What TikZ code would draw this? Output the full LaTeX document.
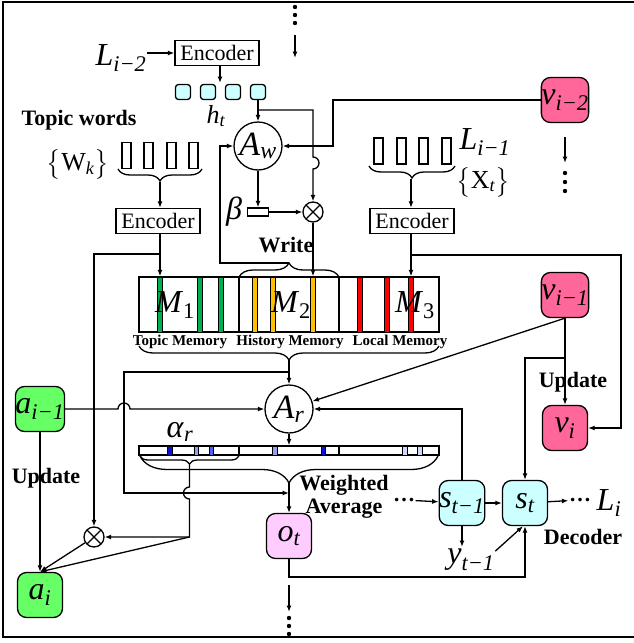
\documentclass[tikz,border=0pt]{standalone}
\usepackage{amsmath}
\usepackage{fontspec}
\setmainfont{Liberation Serif}
\usetikzlibrary{arrows.meta,decorations.pathreplacing}
\definecolor{cellcyan}{RGB}{204,255,255}
\definecolor{vpink}{RGB}{255,102,153}
\definecolor{agreen}{RGB}{102,255,102}
\definecolor{opink}{RGB}{255,204,255}
\definecolor{mgreen}{RGB}{0,176,80}
\definecolor{morange}{RGB}{255,192,0}
\definecolor{mred}{RGB}{255,0,0}
\definecolor{bdark}{RGB}{16,16,210}
\definecolor{bmid}{RGB}{80,96,240}
\definecolor{blight}{RGB}{150,160,240}
\definecolor{bpale}{RGB}{210,214,248}
\newcommand{\sym}[2]{\textit{#1}$_{\textit{#2}}$}

\begin{document}
\begin{tikzpicture}[x=1pt,y=-1pt,line width=1.3pt,>={Latex[length=6.5pt,width=5pt]},
  enc/.style={draw,minimum width=84pt,minimum height=25pt,inner sep=0pt,font=\fontsize{22}{22}\selectfont},
  cell/.style={draw,fill=cellcyan,rounded corners=3pt,minimum size=15pt,inner sep=0pt},
  word/.style={draw,minimum width=9pt,minimum height=26pt,inner sep=0pt},
  att/.style={draw,circle,minimum size=48pt,inner sep=0pt,font=\fontsize{34}{34}\selectfont},
  mult/.style={draw,circle,minimum size=20pt,inner sep=0pt,path picture={
    \draw (path picture bounding box.north west) -- (path picture bounding box.south east)
          (path picture bounding box.north east) -- (path picture bounding box.south west);}},
  state/.style={draw,rounded corners=9pt,minimum size=45pt,inner sep=0pt,font=\fontsize{32}{32}\selectfont},
  big/.style={inner sep=0pt,font=\fontsize{32}{32}\selectfont},
  lbl/.style={inner sep=0pt,font=\fontsize{22}{23}\selectfont\bfseries},
  memlbl/.style={inner sep=0pt,font=\fontsize{15}{15}\selectfont\bfseries},
  brc/.style={decorate,decoration={brace,mirror,amplitude=#1}},
  brcup/.style={decorate,decoration={brace,amplitude=#1}}]
  \useasboundingbox (0,0) rectangle (634,643);
  \draw[line width=2.5pt] (634,2) -- (3,2) -- (3,637) -- (634,637);

  \foreach \y in {7,15,23} \fill (295,\y) circle (2.2pt);
  \coordinate (t1) at (295,35);
  \coordinate (t2) at (295,58);
  \draw[->] (t1) -- (t2);

  \node[big] (L2) at (121,58) {\sym{L}{i−2}};
  \node[enc] (enc0) at (217,53) {Encoder};
  \foreach \i/\x in {1/183,2/208,3/233,4/258} \node[cell] (h\i) at (\x,92) {};
  \node[big,font=\fontsize{26}{26}\selectfont] (hlab) at (216,116) {\sym{h}{t}};
  \node[att] (Aw) at (258,146) {\sym{A}{w}};
  \node[draw,minimum width=21pt,minimum height=8pt,inner sep=0pt] (beta) at (258,212) {};
  \node[big] (blab) at (234,212) {\textit{β}};
  \node[mult] (wm) at (313,212) {};
  \node[lbl] (write) at (286,245) {Write};
  \node[state,fill=vpink] (v2) at (565,100) {\sym{v}{i−2}};
  \foreach \y in {173,182,191} \fill (565,\y) circle (2.2pt);
  \coordinate (v2a) at (565,137);
  \coordinate (v2b) at (565,163);
  \draw[->] (v2a) -- (v2b);

  \coordinate (hin) at (220,83);
  \draw[->] (L2.east |- enc0) -- (enc0);
  \draw[->] (enc0.south -| hin) -- (hin);
  \draw[->] (h4) -- (Aw);
  \coordinate (hb) at (258,110);
  \draw[->] (hb) -- (313,110) -- (313,157) arc[start angle=90,end angle=-90,radius=6pt] -- (wm);
  \draw[->] (v2) -- (333,100) -- (333,146) -- (Aw);
  \draw[->] (Aw) -- (beta);
  \draw[->] (beta) -- (wm);

  % topic words
  \node[lbl] (tw) at (79,120) {Topic words};
  \node[big,font=\fontsize{26}{26}\selectfont] (wk) at (78,164) {$\bigl\{\textrm{W}_{\textit{k}}\bigr\}$};
  \foreach \i/\x in {1/126.5,2/148.5,3/171.5,4/193.5} \node[word] (w\i) at (\x,155.5) {};
  \draw[brc=12pt] (118,169) -- (202,169);
  \coordinate (wtip) at (160,182);
  \node[enc] (enc1) at (158,221) {Encoder};

  % local words
  \node[big] (L1) at (485,142) {\sym{L}{i−1}};
  \node[big,font=\fontsize{26}{26}\selectfont] (xt) at (483,182) {$\bigl\{\textrm{X}_{\textit{t}}\bigr\}$};
  \foreach \i/\x in {1/378.5,2/401.5,3/423.5,4/446.5} \node[word] (x\i) at (\x,151) {};
  \draw[brc=12pt] (369,166) -- (455,166);
  \coordinate (xtip) at (411,179);
  \node[enc] (enc2) at (412,221) {Encoder};

  % memory
  \node[draw,minimum width=300pt,minimum height=55pt,inner sep=0pt] (mem) at (289,304.5) {};
  \foreach \x/\c in {160/mgreen,200/mgreen,221/mgreen,255/morange,273/morange,313/morange,360/mred,387/mred,411/mred}
    \draw[line width=0.6pt,fill=\c] ({\x-2.75},277) rectangle ({\x+2.75},332);
  \draw (239,277) -- (239,332) (339,277) -- (339,332);
  \node[big] (m1) at (175,305) {\sym{M}{\upshape 1}};
  \node[big] (m2) at (291,305) {\sym{M}{\upshape 2}};
  \node[big] (m3) at (415,305) {\sym{M}{\upshape 3}};
  \node[memlbl] (tm) at (180,342) {Topic Memory};
  \node[memlbl] (hm) at (290,342) {History Memory};
  \node[memlbl] (lm) at (400,342) {Local Memory};
  \draw[brcup=14pt] (239,277) -- (339,277);
  \coordinate (writetip) at (289,263);
  \draw[brc=14pt] (139,346) -- (439,346);
  \coordinate (mtip) at (289,360);

  \draw[->] (wtip) -- (wtip |- enc1.north);
  \draw[->] (enc1.south -| wtip) -- (wtip |- mem.north);
  \draw[->] (xtip) -- (xtip |- enc2.north);
  \draw[->] (enc2.south -| xtip) -- (xtip |- mem.north);
  \draw[->] (wm) -- (wm |- mem.north);
  \draw[->] (writetip) -- (220,263) -- (220,146) -- (Aw);

  % read
  \node[att] (Ar) at (289,409) {\sym{A}{r}};
  \node[state,fill=agreen] (a1) at (40,409) {\sym{a}{i−1}};
  \node[state,fill=agreen] (ai) at (40,595) {\sym{a}{i}};
  \node[lbl] (upl) at (46,478) {Update};
  \node[mult] (tmul) at (94,537) {};
  \node[state,fill=vpink] (v1) at (565,295) {\sym{v}{i−1}};
  \node[state,fill=vpink] (vi) at (565,428) {\sym{v}{i}};
  \node[lbl] (upr) at (573,382) {Update};

  \node[draw,minimum width=300pt,minimum height=9pt,inner sep=0pt] (abar) at (289,450.5) {};
  \foreach \x/\c in {170/bdark,196.5/blight,211.5/bmid,275/blight,323.5/bdark,405/bpale,420/bpale}
    \draw[line width=0.6pt,fill=\c] ({\x-2.25},446) rectangle ({\x+2.25},455);
  \draw (239,446) -- (239,455) (339,446) -- (339,455);
  \node[big] (alab) at (180,432) {\sym{α}{r}};
  \draw[brc=8pt] (140,456) -- (239,456);
  \coordinate (stip) at (189.5,464);
  \draw[brc=27pt] (140,456) -- (438,456);
  \coordinate (atip) at (289,483);

  \node[state,fill=opink] (ot) at (289,536) {\sym{o}{t}};
  \node[lbl,align=center] (wa) at (344,497) {Weighted\\Average};
  \foreach \y in {618,626,634} \fill (289,\y) circle (2.2pt);
  \coordinate (o1) at (289,585);
  \coordinate (o2) at (289,612);

  \node[state,fill=cellcyan] (stm) at (462,503) {\sym{s}{t−1}};
  \node[state,fill=cellcyan] (st) at (525,503) {\sym{s}{t}};
  \node[big,font=\fontsize{22}{22}\selectfont\bfseries] (dl) at (404,500) {…};
  \node[big,font=\fontsize{22}{22}\selectfont\bfseries] (dr) at (580,500) {…};
  \node[big] (Li) at (609,503) {\sym{L}{i}};
  \node[lbl] (dec) at (583,537) {Decoder};
  \node[big] (ylab) at (471,560) {\sym{y}{t−1}};
  \coordinate (yt) at (462,547);

  \coordinate (mj) at (289,372);
  \coordinate (wj) at (289,493);
  \draw[->] (mtip) -- (Ar);
  \draw[->] (mj) -- (124,372) -- (124,493) -- (wj);
  \draw[->] (a1) -- (118,409) arc[start angle=180,end angle=0,radius=6pt] -- (Ar);
  \coordinate (tb) at (160,254);
  \draw[->] (tb) -- (94,254) -- (tmul);
  \coordinate (rb) at (411,255);
  \draw[->] (rb) -- (621,255) -- (621,428) -- (vi);
  \draw[->] (v1) -- (vi);
  \draw[->] (v1.south) -- (Ar);
  \coordinate (vb) at (565,358);
  \draw[->] (vb) -- (vb -| st) -- (st);
  \draw[->] (Ar) -- (Ar |- abar.north);
  \coordinate (sj) at (189.5,537);
  \draw[->] (stip) -- (189.5,487) arc[start angle=90,end angle=270,radius=6pt] -- (sj) -- (tmul);
  \draw[->] (sj) -- (ai.north);
  \draw[->] (tmul) -- (ai.north);
  \draw[->] (a1) -- (ai);
  \draw[->] (atip) -- (ot);
  \draw[->] (o1) -- (o2);
  \coordinate (ob) at (525,577);
  \draw[->] (ot) |- (ob) -- (st);
  \draw[->] (stm) -- (stm |- Ar) -- (Ar);
  \draw[->] (dl) -- (stm);
  \draw[->] (stm) -- (st);
  \draw[->] (st) -- (dr);
  \draw[->] (stm) -- (yt);
  \draw[->] (ylab.20) -- ([xshift=-2pt]st.south);
\end{tikzpicture}
\end{document}
